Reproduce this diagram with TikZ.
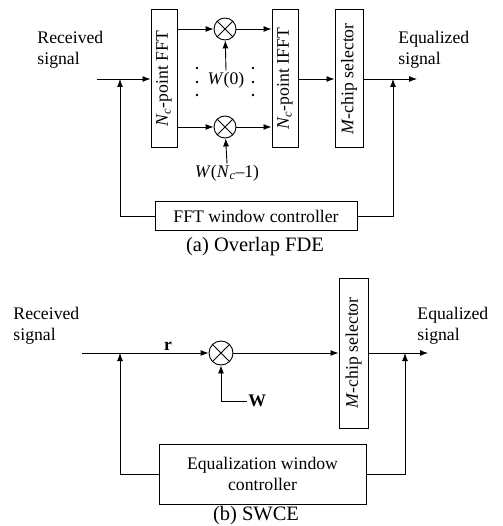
\documentclass[tikz,border=0pt]{standalone}
\usepackage{fontspec}
\setmainfont{Liberation Serif}
\usetikzlibrary{arrows.meta,positioning}

\tikzset{
  txt/.style={font=\fontsize{17.7}{20.5}\selectfont, inner sep=1pt},
  blk/.style={draw, txt, line width=1pt, inner sep=0pt},
  vblk/.style={blk, rotate=90},
  mul/.style={draw, circle, line width=0.9pt, minimum size=#1, inner sep=0pt},
  arr/.style={-{Latex[length=8pt,width=6pt]}},
  captxt/.style={font=\fontsize{20.5}{23}\selectfont}
}

\begin{document}
\begin{tikzpicture}[x=1pt,y=-1pt,line width=0.9pt]

\useasboundingbox (0,0) rectangle (502,526);

% (a) Overlap FDE
\coordinate (inA)  at (97,79);
\coordinate (jA1)  at (120,79);
\coordinate (jA2)  at (393,79);
\coordinate (outA) at (417,79);

\node[vblk, minimum width=138, minimum height=26] (fft)  at (164,79) {\textit{N}\textsubscript{\textit{c}}-point FFT};
\node[vblk, minimum width=138, minimum height=26] (ifft) at (285,79) {\textit{N}\textsubscript{\textit{c}}-point IFFT};
\node[vblk, minimum width=138, minimum height=28] (selA) at (349,79) {\textit{M}-chip selector};
\node[blk, minimum width=202, minimum height=28] (ctrlA) at (256,216) {FFT window controller};

\node[mul=22] (m1) at (225,29) {};
\node[mul=22] (m2) at (225,127) {};
\foreach \m in {m1,m2} {
    \draw (\m.north west) -- (\m.south east);
    \draw (\m.north east) -- (\m.south west);
}

\node[txt] (w0) at (226,80) {\textit{W}(0)};
\node[txt] (w1) at (227,173) {\textit{W}(\textit{N}\textsubscript{\textit{c}}--1)};

\foreach \x in {197,253} {
    \foreach \y in {68,82,95} {
        \fill[black] (\x,\y) circle (1.4pt);
    }
}

\draw[arr] (inA) -- (fft.north);
\draw[arr] (m1 -| fft.south) -- (m1);
\draw[arr] (m2 -| fft.south) -- (m2);
\draw[arr] (m1) -- (m1 -| ifft.north);
\draw[arr] (m2) -- (m2 -| ifft.north);
\draw[arr] (w0.north) -- (m1);
\draw[arr] (w1.north) -- (m2);
\draw[arr] (ifft.south) -- (selA.north);
\draw[arr] (selA.south) -- (outA);
\draw[arr] (ctrlA.west) -| (jA1);
\draw[arr] (ctrlA.east) -| (jA2);

\node[txt, align=left, anchor=west] (rxA) at (36,50) {Received\\signal};
\node[txt, align=left, anchor=west] (eqA) at (397,50) {Equalized\\signal};
\node[captxt] (capA) at (255,247) {(a) Overlap FDE};

% (b) SWCE
\coordinate (inB)  at (82,353);
\coordinate (jB1)  at (120,353);
\coordinate (jB2)  at (405,353);
\coordinate (outB) at (428,353);

\node[mul=24] (m3) at (221,353) {};
\draw (m3.north west) -- (m3.south east);
\draw (m3.north east) -- (m3.south west);

\node[vblk, minimum width=150, minimum height=29] (selB) at (353.5,353) {\textit{M}-chip selector};
\node[blk, align=center, minimum width=207, minimum height=60] (ctrlB) at (262.5,474) {Equalization window\\controller};

\node[txt, anchor=west] (wv) at (247,401) {\textbf{W}};
\node[txt, above=1pt] (rv) at (168,353) {\textbf{r}};

\draw[arr] (inB) -- (m3);
\draw[arr] (m3) -- (selB.north);
\draw[arr] (selB.south) -- (outB);
\draw[arr] (wv.west) -| (m3.south);
\draw[arr] (ctrlB.west) -| (jB1);
\draw[arr] (ctrlB.east) -| (jB2);

\node[txt, align=left, anchor=west] (rxB) at (12,326) {Received\\signal};
\node[txt, align=left, anchor=west] (eqB) at (416,326) {Equalized\\signal};
\node[captxt] (capB) at (256,516) {(b) SWCE};

\end{tikzpicture}
\end{document}
